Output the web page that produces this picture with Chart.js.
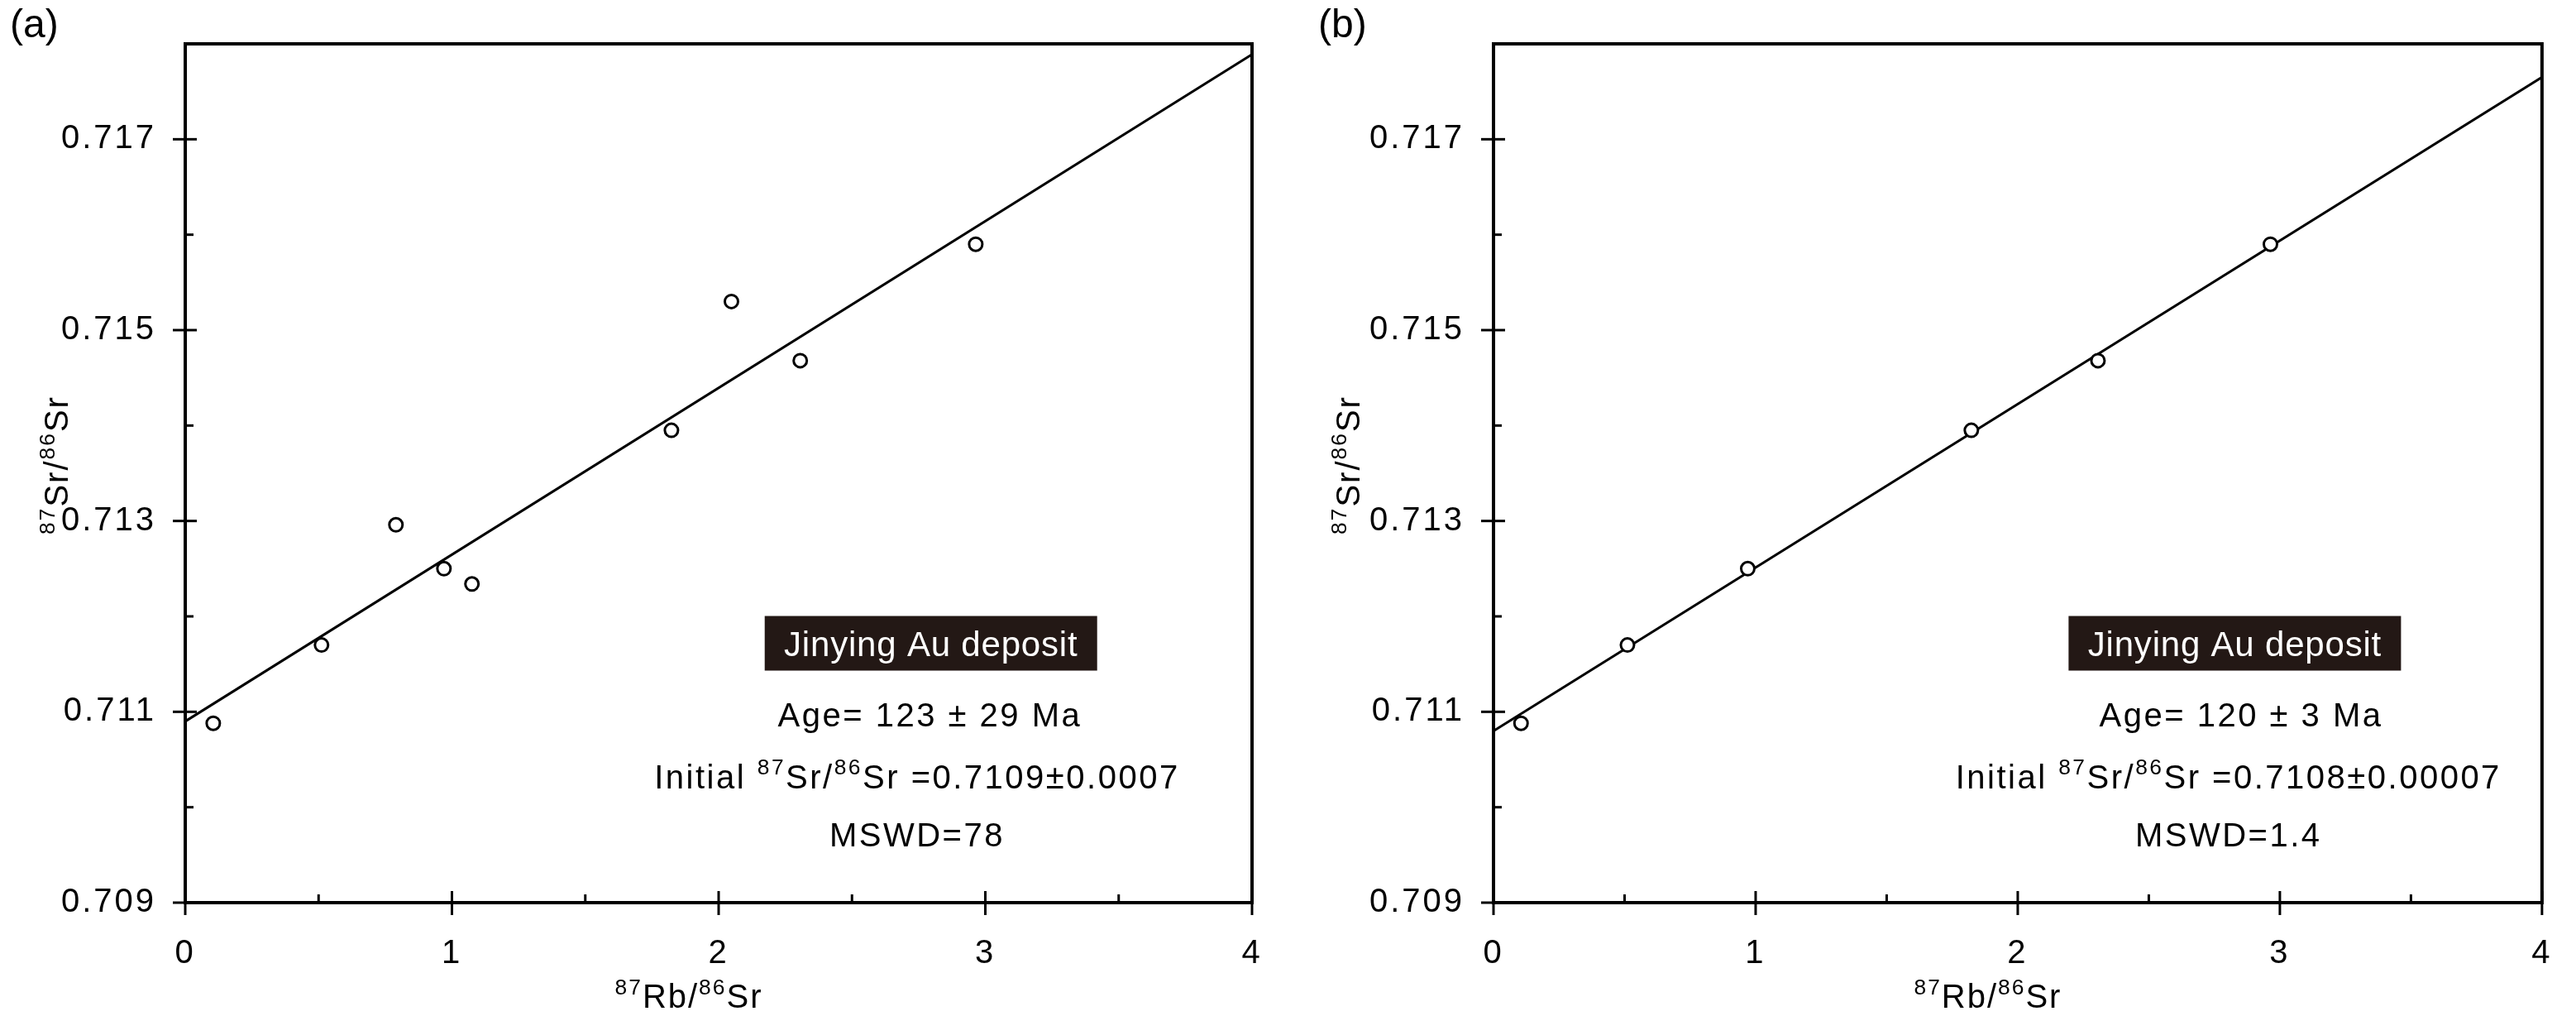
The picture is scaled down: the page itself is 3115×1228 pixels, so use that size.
<!DOCTYPE html>
<html>
<head>
<meta charset="utf-8">
<script src="https://cdn.jsdelivr.net/npm/chart.js@4.4.1/dist/chart.umd.min.js"></script>
<style>
html, body { margin: 0; padding: 0; background: #fff; }
#wrap { position: relative; width: 3115px; height: 1228px; }
canvas { position: absolute; top: 0; }
</style>
</head>
<body>
<div id="wrap">
  <canvas id="chartA" width="1560" height="1228" style="left:0px"></canvas>
  <canvas id="chartB" width="1555" height="1228" style="left:1560px"></canvas>
</div>
<script>
// tick labels
const xTicks = [0, 1, 2, 3, 4];
const yTicks = ['0.709', '0.711', '0.713', '0.715', '0.717'];

// (a) all samples
const rbA = [0.105, 0.511, 0.79, 0.97, 1.075, 1.823, 2.048, 2.306, 2.964];
const srA = [0.71088, 0.7117, 0.71296, 0.7125, 0.71234, 0.71395, 0.7153, 0.71468, 0.7159];
const lineRbA = [0, 4];
const lineSrA = [0.7109, 0.71789];

// (b) outliers removed
const rbB = [0.105, 0.511, 0.97, 1.823, 2.306, 2.964];
const srB = [0.71088, 0.7117, 0.7125, 0.71395, 0.71468, 0.7159];
const lineRbB = [0, 4];
const lineSrB = [0.7108, 0.71765];

const FONT = "'Liberation Sans', Arial, sans-serif";

function toPts(xs, ys) {
  return xs.map((v, i) => ({ x: v, y: ys[i] }));
}

// text with superscripts: segs = [[text, isSup], ...]
function drawRich(ctx, segs, cx, cy, size, spacing, color) {
  ctx.save();
  ctx.fillStyle = color || '#000';
  ctx.textBaseline = 'alphabetic';
  ctx.textAlign = 'left';
  ctx.letterSpacing = spacing + 'px';
  let w = 0;
  segs.forEach(s => {
    ctx.font = (s[1] ? size * 0.66 : size) + 'px ' + FONT;
    w += ctx.measureText(s[0]).width;
  });
  let x = cx - w / 2;
  const base = cy + size * 0.36;
  segs.forEach(s => {
    ctx.font = (s[1] ? size * 0.66 : size) + 'px ' + FONT;
    ctx.fillText(s[0], x, s[1] ? base - size * 0.42 : base);
    x += ctx.measureText(s[0]).width;
  });
  ctx.restore();
}

const decor = {
  id: 'decor',
  beforeDraw(chart) {
    chart.ctx.letterSpacing = '3px';
  },
  afterDraw(chart, args, o) {
    const ctx = chart.ctx, a = chart.chartArea;
    const xs = chart.scales.x, ys = chart.scales.y;
    const W = a.right - a.left, H = a.bottom - a.top;
    ctx.save();
    ctx.strokeStyle = '#000';
    ctx.lineWidth = 4;
    ctx.strokeRect(a.left, a.top, W, H);
    ctx.lineWidth = 3;
    ys.ticks.forEach(t => {
      const p = ys.getPixelForValue(t.value);
      if (p < a.top + 2) return;
      const major = yTicks.includes(t.value.toFixed(3));
      ctx.beginPath();
      ctx.moveTo(a.left - (major ? 15 : 0), p);
      ctx.lineTo(a.left + (major ? 14 : 10), p);
      ctx.stroke();
    });
    xs.ticks.forEach(t => {
      const p = xs.getPixelForValue(t.value);
      const major = xTicks.includes(t.value);
      ctx.beginPath();
      ctx.moveTo(p, a.bottom + (major ? 15 : 0));
      ctx.lineTo(p, a.bottom - (major ? 14 : 10));
      ctx.stroke();
    });
    ctx.restore();

    // panel letter
    ctx.save();
    ctx.letterSpacing = '0px';
    ctx.font = '48px ' + FONT;
    ctx.fillStyle = '#000';
    ctx.textBaseline = 'middle';
    ctx.fillText(o.letter, o.letterX, 32);
    ctx.restore();

    // axis titles
    drawRich(ctx, [['87', true], ['Rb/', false], ['86', true], ['Sr', false]],
      (a.left + a.right) / 2 - 36, 1204, 40, 2);
    ctx.save();
    ctx.translate(o.yTitleX, (a.top + a.bottom) / 2 - 10);
    ctx.rotate(-Math.PI / 2);
    drawRich(ctx, [['87', true], ['Sr/', false], ['86', true], ['Sr', false]], 0, 0, 40, 2);
    ctx.restore();

    // label box
    const bx = a.left + o.boxX * W, by = a.top + 0.698 * H;
    ctx.save();
    ctx.fillStyle = '#231815';
    ctx.fillRect(bx - 201, by - 33, 402, 66);
    ctx.restore();
    drawRich(ctx, [['Jinying Au deposit', false]], bx, by, 42, 0.8, '#fff');

    // results
    drawRich(ctx, [['Age= ' + o.age + ' Ma', false]], a.left + o.ageX * W, a.top + 0.781 * H, 40, 2.5);
    drawRich(ctx, [['Initial ', false], ['87', true], ['Sr/', false], ['86', true], ['Sr =' + o.init, false]],
      a.left + o.initX * W, a.top + 0.853 * H, 40, 2.5);
    drawRich(ctx, [['MSWD=' + o.mswd, false]], a.left + o.initX * W, a.top + 0.921 * H, 40, 2.5);
  }
};

function makeChart(id, pts, line, yWidth, padRight, opts) {
  return new Chart(document.getElementById(id), {
    type: 'scatter',
    data: {
      datasets: [{
        data: pts,
        pointStyle: 'circle',
        pointRadius: 8,
        pointBorderWidth: 3,
        borderColor: '#000',
        backgroundColor: '#fff'
      }, {
        type: 'line',
        data: line,
        showLine: true,
        pointRadius: 0,
        borderWidth: 3,
        borderColor: '#000',
        fill: false
      }]
    },
    options: {
      responsive: false,
      animation: false,
      layout: { padding: { top: 53, right: padRight, left: 0, bottom: 0 } },
      plugins: { legend: { display: false }, tooltip: { enabled: false }, decor: opts },
      scales: {
        x: {
          type: 'linear', min: 0, max: 4,
          grid: { display: false },
          border: { display: false },
          afterFit: s => { s.height = 137; },
          ticks: {
            stepSize: 0.5, padding: 30, color: '#000',
            font: { family: FONT, size: 40 },
            callback: v => xTicks.includes(v) ? String(v) : ''
          }
        },
        y: {
          type: 'linear', min: 0.709, max: 0.718,
          grid: { display: false },
          border: { display: false },
          afterFit: s => { s.width = yWidth; },
          ticks: {
            stepSize: 0.001, padding: 27, color: '#000',
            font: { family: FONT, size: 40 },
            callback: v => yTicks.includes(v.toFixed(3)) ? v.toFixed(3) : ''
          }
        }
      }
    },
    plugins: [decor]
  });
}

makeChart('chartA', toPts(rbA, srA), toPts(lineRbA, lineSrA), 224, 46, {
  letter: '(a)', letterX: 12, yTitleX: 68,
  boxX: 0.699, ageX: 0.698, initX: 0.686,
  age: '123 \u00b1 29', init: '0.7109\u00b10.0007', mswd: '78'
});
makeChart('chartB', toPts(rbB, srB), toPts(lineRbB, lineSrB), 246, 22, {
  letter: '(b)', letterX: 34, yTitleX: 70,
  boxX: 0.707, ageX: 0.713, initX: 0.701,
  age: '120 \u00b1 3', init: '0.7108\u00b10.00007', mswd: '1.4'
});
</script>
</body>
</html>
